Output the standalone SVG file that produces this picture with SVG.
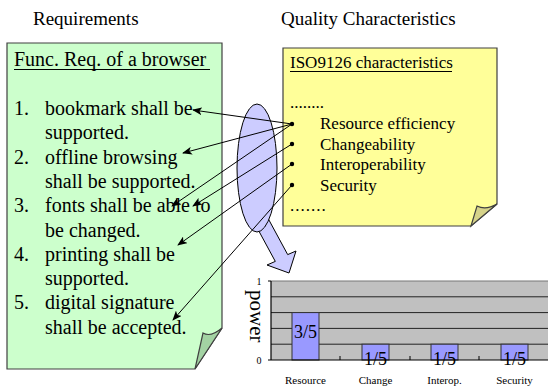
<svg xmlns="http://www.w3.org/2000/svg" width="549" height="390" viewBox="0 0 549 390">
<defs>
<style>
.note{stroke:#404040;stroke-width:1.2}
.conn{stroke:#000;stroke-width:1;fill:none}
.grid{stroke:#222;stroke-width:1}
.bar{fill:#9999ff;stroke:#333;stroke-width:1}
</style>
<marker id="ah" viewBox="0 0 10 8" refX="9" refY="4" markerWidth="10" markerHeight="8" markerUnits="userSpaceOnUse" orient="auto">
<path d="M0,0 L10,4 L0,8 L2.5,4 Z" fill="#000"/>
</marker>
</defs>
<rect width="549" height="390" fill="#fff"/>

<g id="headings">
<text font-family="Liberation Serif" font-size="19" x="33" y="25">Requirements</text>
<text font-family="Liberation Serif" font-size="19" x="281" y="25">Quality Characteristics</text>
</g>

<g id="req-note">
<path class="note" d="M7,43 H222 V328 L195,369 H7 Z" fill="#ccffcc"/>
<path class="note" d="M195,369 L203,333 C208,336 215,334 222,328 Z" fill="#a3d3a3"/>
<text font-family="Liberation Serif" font-size="20" x="14" y="66">Func. Req. of a browser</text>
<line x1="14" y1="69.5" x2="210" y2="69.5" stroke="#000" stroke-width="1.2"/>
<text font-family="Liberation Serif" font-size="20" x="14" y="115">1.</text>
<text font-family="Liberation Serif" font-size="20" x="45" y="115">bookmark shall be</text>
<text font-family="Liberation Serif" font-size="20" x="45" y="139.3">supported.</text>
<text font-family="Liberation Serif" font-size="20" x="14" y="163.6">2.</text>
<text font-family="Liberation Serif" font-size="20" x="45" y="163.6">offline browsing</text>
<text font-family="Liberation Serif" font-size="20" x="45" y="187.9">shall be supported.</text>
<text font-family="Liberation Serif" font-size="20" x="14" y="212.2">3.</text>
<text font-family="Liberation Serif" font-size="20" x="45" y="212.2">fonts shall be able to</text>
<text font-family="Liberation Serif" font-size="20" x="45" y="236.5">be changed.</text>
<text font-family="Liberation Serif" font-size="20" x="14" y="260.8">4.</text>
<text font-family="Liberation Serif" font-size="20" x="45" y="260.8">printing shall be</text>
<text font-family="Liberation Serif" font-size="20" x="45" y="285.1">supported.</text>
<text font-family="Liberation Serif" font-size="20" x="14" y="309.4">5.</text>
<text font-family="Liberation Serif" font-size="20" x="45" y="309.4">digital signature</text>
<text font-family="Liberation Serif" font-size="20" x="45" y="333.7">shall be accepted.</text>
</g>

<g id="qc-note">
<path class="note" d="M283,48 H497 V204 L471,226 H283 Z" fill="#ffff99"/>
<path class="note" d="M471,226 L477,206 C483,209 490,208 497,204 Z" fill="#d6d38a"/>
<text font-family="Liberation Serif" font-size="17" x="290" y="68">ISO9126 characteristics</text>
<line x1="290" y1="71.5" x2="452" y2="71.5" stroke="#000" stroke-width="1"/>
<text font-family="Liberation Serif" font-size="17" x="290" y="108">........</text>
<text font-family="Liberation Serif" font-size="17" x="320" y="129">Resource efficiency</text>
<text font-family="Liberation Serif" font-size="17" x="320" y="150">Changeability</text>
<text font-family="Liberation Serif" font-size="17" x="320" y="170">Interoperability</text>
<text font-family="Liberation Serif" font-size="17" x="320" y="191">Security</text>
<text font-family="Liberation Serif" font-size="17" x="290" y="211" letter-spacing="1">.......</text>
<circle cx="292" cy="124" r="2.2"/>
<circle cx="292" cy="144" r="2.2"/>
<circle cx="292" cy="164" r="2.2"/>
<circle cx="292" cy="185" r="2.2"/>
</g>

<g id="mapping">
<polygon points="255.8,225.4 275.3,261.4 267,265 289,273 296,251 287.7,254.6 268.2,218.6" fill="#ccccff" stroke="#000" stroke-width="1"/>
<ellipse cx="257" cy="168" rx="20" ry="64" fill="#ccccff" stroke="#000" stroke-width="1"/>
</g>

<g id="connectors">
<line class="conn" x1="292" y1="124" x2="193" y2="110" marker-end="url(#ah)"/>
<line class="conn" x1="292" y1="124" x2="183" y2="153" marker-end="url(#ah)"/>
<line class="conn" x1="292" y1="124" x2="172" y2="206" marker-end="url(#ah)"/>
<line class="conn" x1="292" y1="144" x2="193" y2="206" marker-end="url(#ah)"/>
<line class="conn" x1="292" y1="164" x2="178" y2="245" marker-end="url(#ah)"/>
<line class="conn" x1="292" y1="185" x2="173" y2="320" marker-end="url(#ah)"/>
</g>

<g id="chart">
<rect x="271" y="281" width="277" height="79" fill="#c0c0c0"/>
<line x1="271" y1="281" x2="548" y2="281" stroke="#777" stroke-width="1"/>
<line class="grid" x1="271" y1="296.8" x2="548" y2="296.8"/>
<line class="grid" x1="271" y1="312.6" x2="548" y2="312.6"/>
<line class="grid" x1="271" y1="328.4" x2="548" y2="328.4"/>
<line class="grid" x1="271" y1="344.2" x2="548" y2="344.2"/>
<rect class="bar" x="292" y="312.6" width="27" height="47.4"/>
<rect class="bar" x="362" y="344.2" width="27" height="15.8"/>
<rect class="bar" x="431" y="344.2" width="27" height="15.8"/>
<rect class="bar" x="501" y="344.2" width="27" height="15.8"/>
<line x1="271" y1="281" x2="271" y2="360" stroke="#000" stroke-width="1.2"/>
<line x1="268" y1="360" x2="548" y2="360" stroke="#000" stroke-width="1.2"/>
<line x1="268" y1="281" x2="271" y2="281" stroke="#000" stroke-width="1"/>
<line x1="340" y1="356" x2="340" y2="360" stroke="#000" stroke-width="1"/>
<line x1="410" y1="356" x2="410" y2="360" stroke="#000" stroke-width="1"/>
<line x1="479" y1="356" x2="479" y2="360" stroke="#000" stroke-width="1"/>
<text font-family="Liberation Serif" font-size="18" text-anchor="middle" x="305.5" y="338">3/5</text>
<text font-family="Liberation Serif" font-size="18" text-anchor="middle" x="375.5" y="365">1/5</text>
<text font-family="Liberation Serif" font-size="18" text-anchor="middle" x="444.5" y="365">1/5</text>
<text font-family="Liberation Serif" font-size="18" text-anchor="middle" x="514.5" y="365">1/5</text>
<text font-family="Liberation Serif" font-size="10" text-anchor="middle" x="259" y="285">1</text>
<text font-family="Liberation Serif" font-size="10" text-anchor="middle" x="259" y="364">0</text>
<text font-family="Liberation Serif" font-size="21" transform="translate(250,290) rotate(90)">power</text>
<text font-family="Liberation Serif" font-size="11" text-anchor="middle" x="305.5" y="384">Resource</text>
<text font-family="Liberation Serif" font-size="11" text-anchor="middle" x="375.5" y="384">Change</text>
<text font-family="Liberation Serif" font-size="11" text-anchor="middle" x="444.5" y="384">Interop.</text>
<text font-family="Liberation Serif" font-size="11" text-anchor="middle" x="514.5" y="384">Security</text>
</g>
</svg>
